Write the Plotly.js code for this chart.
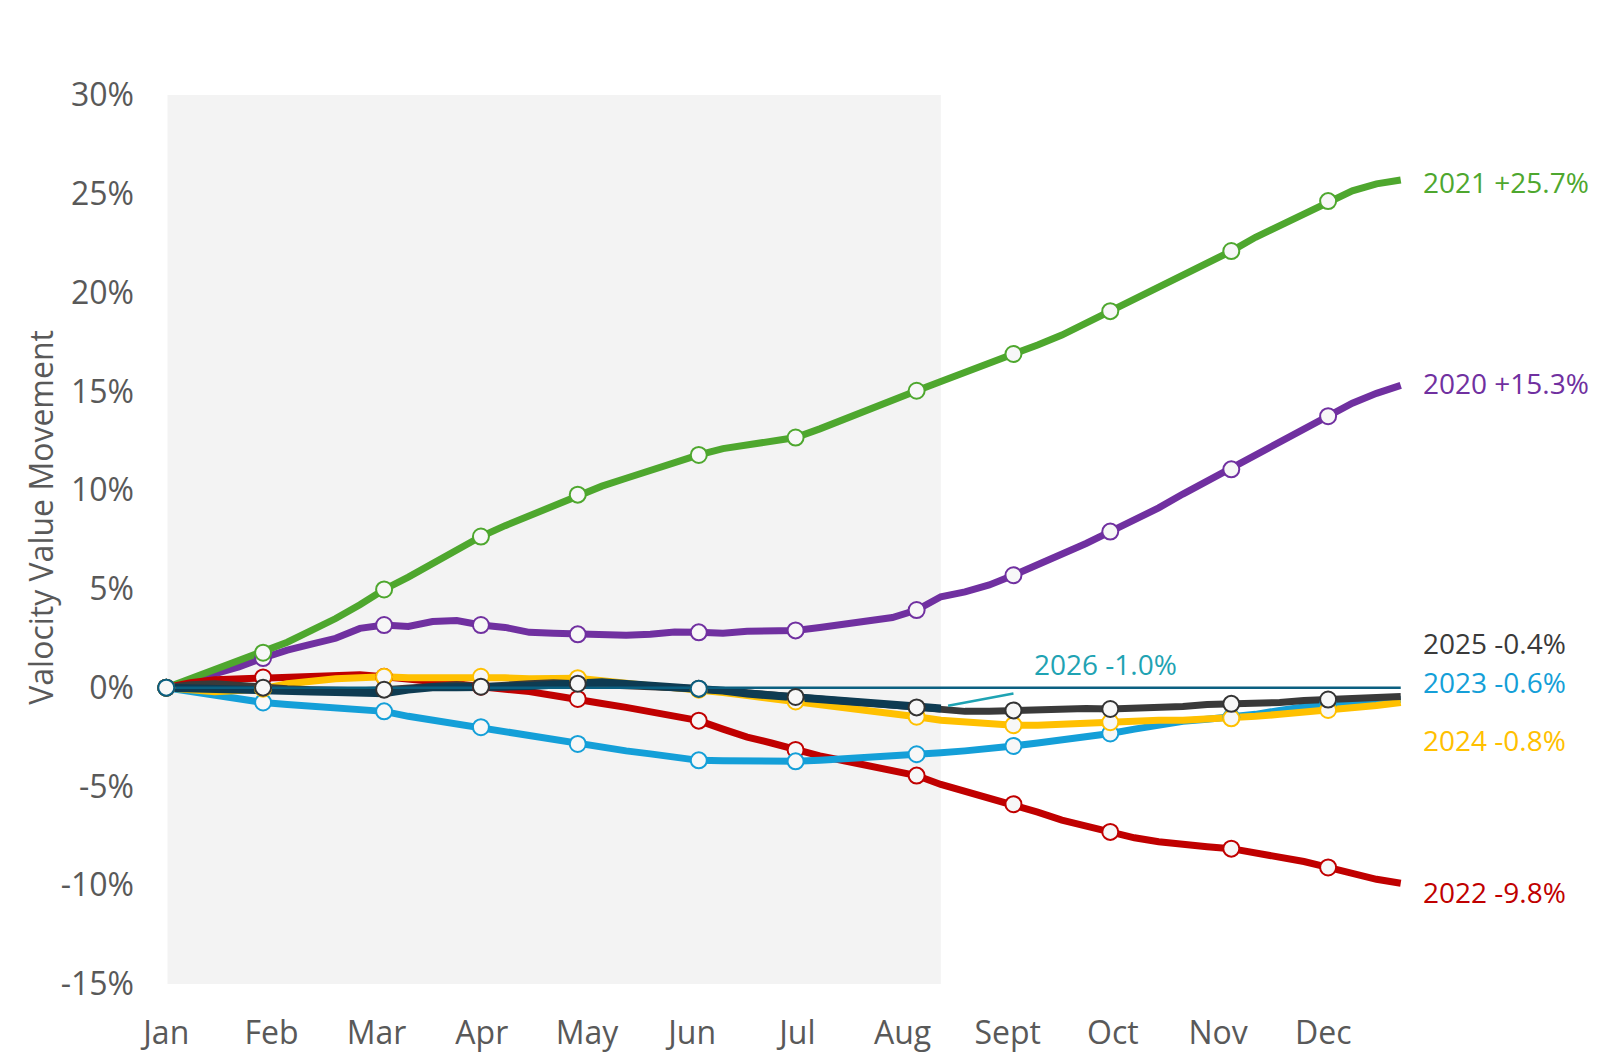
<!DOCTYPE html>
<html>
<head>
<meta charset="utf-8">
<script src="https://cdn.plot.ly/plotly-3.0.1.min.js"></script>
<style>
  html, body { margin: 0; padding: 0; background: #fff; }
  #chart { width: 1599px; height: 1062px; }
</style>
</head>
<body>
<div id="chart"></div>
<script>
// weekly index, 0 = first week of Jan
const weeks = [];
for (let i = 0; i < 52; i++) weeks.push(i);

const monthNames = ["Jan", "Feb", "Mar", "Apr", "May", "Jun", "Jul", "Aug", "Sept", "Oct", "Nov", "Dec"];
const yTicks = [-15, -10, -5, 0, 5, 10, 15, 20, 25, 30];
// weeks that carry a round marker (one per month)
const markerWeeks = [0, 4, 9, 13, 17, 22, 26, 31, 35, 39, 44, 48];
const markerWeeks2026 = [0, 22];

const v2020 = [0, 0.35, 0.7, 1.05, 1.5, 1.9, 2.2, 2.5, 3.0, 3.17,
  3.1, 3.35, 3.4, 3.17, 3.05, 2.8, 2.75, 2.7, 2.68, 2.65,
  2.7, 2.82, 2.8, 2.76, 2.85, 2.86, 2.9, 3.05, 3.2, 3.35,
  3.55, 3.93, 4.6, 4.85, 5.2, 5.69, 6.2, 6.75, 7.3, 7.9,
  8.5, 9.1, 9.8, 10.45, 11.05, 11.8, 12.45, 13.1, 13.74, 14.4,
  14.9, 15.3];
const v2021 = [0, 0.45, 0.95, 1.35, 1.77, 2.3, 2.9, 3.5, 4.2, 4.97,
  5.6, 6.3, 7.0, 7.65, 8.2, 8.7, 9.25, 9.77, 10.2, 10.6,
  11.0, 11.4, 11.78, 12.1, 12.3, 12.45, 12.66, 13.1, 13.6, 14.05,
  14.55, 15.03, 15.5, 15.95, 16.4, 16.89, 17.35, 17.85, 18.45, 19.06,
  19.65, 20.25, 20.85, 21.45, 22.1, 22.8, 23.4, 24.0, 24.63, 25.15,
  25.5, 25.7];
const v2022 = [0, 0.25, 0.4, 0.45, 0.52, 0.52, 0.6, 0.65, 0.65, 0.55,
  0.45, 0.35, 0.2, 0.05, -0.05, -0.2, -0.4, -0.57, -0.8, -1.0,
  -1.2, -1.4, -1.67, -2.1, -2.5, -2.8, -3.15, -3.45, -3.7, -3.95,
  -4.2, -4.45, -4.9, -5.25, -5.6, -5.9, -6.3, -6.7, -7.0, -7.3,
  -7.6, -7.8, -7.95, -8.05, -8.15, -8.35, -8.55, -8.8, -9.1, -9.4,
  -9.7, -9.9];
const v2023 = [0, -0.2, -0.35, -0.55, -0.75, -0.85, -0.95, -1.05, -1.1, -1.2,
  -1.45, -1.65, -1.8, -2.0, -2.2, -2.45, -2.65, -2.85, -3.05, -3.2,
  -3.35, -3.5, -3.68, -3.7, -3.72, -3.73, -3.73, -3.68, -3.62, -3.52,
  -3.42, -3.37, -3.3, -3.2, -3.1, -2.95, -2.8, -2.65, -2.5, -2.32,
  -2.1, -1.9, -1.7, -1.6, -1.5, -1.35, -1.15, -0.95, -0.8, -0.7,
  -0.65, -0.6];
const v2024 = [0, -0.1, -0.2, -0.15, -0.05, 0.2, 0.35, 0.45, 0.5, 0.55,
  0.5, 0.5, 0.55, 0.55, 0.5, 0.45, 0.45, 0.48, 0.35, 0.2,
  0.1, 0.0, -0.1, -0.25, -0.4, -0.55, -0.7, -0.8, -0.95, -1.1,
  -1.25, -1.47, -1.65, -1.75, -1.85, -1.9, -1.9, -1.85, -1.75, -1.75,
  -1.7, -1.65, -1.65, -1.6, -1.55, -1.45, -1.35, -1.25, -1.13, -1.0,
  -0.9, -0.75];
const v2025 = [0, 0.15, 0.2, 0.1, 0, -0.05, -0.1, -0.15, -0.15, -0.1,
  0.0, 0.1, 0.15, 0.05, 0.15, 0.2, 0.25, 0.2, 0.2, 0.15,
  0.1, 0.05, -0.05, -0.15, -0.25, -0.35, -0.47, -0.55, -0.65, -0.75,
  -0.85, -1.0, -1.1, -1.2, -1.2, -1.15, -1.15, -1.05, -1.05, -1.08,
  -1.05, -1.0, -0.95, -0.85, -0.82, -0.8, -0.75, -0.65, -0.6, -0.55,
  -0.5, -0.45];
const v2026 = [0, -0.05, -0.08, -0.1, -0.1, -0.15, -0.2, -0.22, -0.25, -0.28,
  -0.1, 0.02, 0.02, 0.0, 0.05, 0.09, 0.15, 0.25, 0.28, 0.19,
  0.12, 0.05, -0.05, -0.15, -0.3, -0.38, -0.45, -0.55, -0.62, -0.7,
  -0.79, -0.95, -1.05];

const labelText = ["2020 +15.3%", "2021 +25.7%", "2022 -9.8%", "2023 -0.6%", "2024 -0.8%", "2025 -0.4%"];

const FONT = "Open Sans, Noto Sans, sans-serif";
const TXT = "#595959";

// bottom -> top drawing order
const series = [
  { name: "2020", y: v2020, color: "#7030a0", ring: "#7030a0", labelY: 15.4 },
  { name: "2021", y: v2021, color: "#4ea72e", ring: "#4ea72e", labelY: 25.6 },
  { name: "2022", y: v2022, color: "#c00000", ring: "#c00000", labelY: -10.35 },
  { name: "2023", y: v2023, color: "#149fd8", ring: "#149fd8", labelY: 0.3 },
  { name: "2024", y: v2024, color: "#ffc000", ring: "#ffc000", labelY: -2.65 },
  { name: "2025", y: v2025, color: "#3a3a3a", ring: "#333333", labelY: 2.25 }
];

const traces = [];
series.forEach(function (s) {
  traces.push({
    x: weeks.slice(0, s.y.length), y: s.y, type: "scatter", mode: "lines",
    line: { color: s.color, width: 7 }, hoverinfo: "skip", showlegend: false
  });
});
traces.push({
  x: weeks.slice(0, v2026.length), y: v2026, type: "scatter", mode: "lines",
  line: { color: "#0e3b52", width: 8 }, hoverinfo: "skip", showlegend: false
});
// zero reference line
traces.push({
  x: [weeks[0], weeks[weeks.length - 1]], y: [0, 0], type: "scatter", mode: "lines",
  line: { color: "#0b5f80", width: 2.5 }, hoverinfo: "skip", showlegend: false
});

function markerTrace(vals, wk, ring) {
  return {
    x: wk, y: wk.map(function (w) { return vals[w]; }),
    type: "scatter", mode: "markers", cliponaxis: false,
    marker: { size: 16, color: "#f7f7f7", line: { color: ring, width: 2 } },
    hoverinfo: "skip", showlegend: false
  };
}
series.forEach(function (s) { traces.push(markerTrace(s.y, markerWeeks, s.ring)); });
traces.push(markerTrace(v2026, markerWeeks2026, "#0b5f80"));

const annotations = series.map(function (s, i) {
  return {
    x: 51, y: s.labelY, xref: "x", yref: "y", xanchor: "left", yanchor: "middle",
    xshift: 20, text: labelText[i], showarrow: false,
    font: { family: FONT, size: 28, color: s.color }
  };
});
annotations.push({
  x: 38.8, y: 1.2, xref: "x", yref: "y", xanchor: "center", yanchor: "middle",
  text: "2026 -1.0%", showarrow: false,
  font: { family: FONT, size: 28, color: "#1fa3b3" }
});
annotations.push({
  x: -0.0945, y: 0.5255, xref: "paper", yref: "paper", xanchor: "center", yanchor: "middle",
  text: "Valocity Value Movement", textangle: -90, showarrow: false,
  font: { family: FONT, size: 32, color: TXT }
});

const tickvals = monthNames.map(function (m, i) { return i * 365 / 12 / 7; });

const layout = {
  width: 1599, height: 1062,
  margin: { l: 159, r: 191, t: 95, b: 78 },
  paper_bgcolor: "#ffffff", plot_bgcolor: "#ffffff",
  font: { family: FONT, color: TXT },
  xaxis: {
    range: [-0.3, 51.3], tickvals: tickvals, ticktext: monthNames,
    showgrid: false, zeroline: false, showline: false, ticks: "",
    tickfont: { size: 32, color: TXT }, ticklabelstandoff: 27
  },
  yaxis: {
    range: [-15, 30], tickvals: yTicks,
    ticktext: yTicks.map(function (t) { return t + "%"; }),
    showgrid: false, zeroline: false, showline: false, ticks: "",
    tickfont: { size: 32, color: TXT }, ticklabelstandoff: 24
  },
  shapes: [
    { type: "rect", xref: "x", yref: "y", x0: 0.05, x1: 32, y0: -15, y1: 30,
      fillcolor: "#f3f3f3", line: { width: 0 }, layer: "below" },
    { type: "line", xref: "x", yref: "y", x0: 32.3, y0: -0.92, x1: 35, y1: -0.3,
      line: { color: "#1fa3b3", width: 2.5 } }
  ],
  annotations: annotations
};

Plotly.newPlot("chart", traces, layout, { displayModeBar: false, staticPlot: true });
</script>
</body>
</html>
